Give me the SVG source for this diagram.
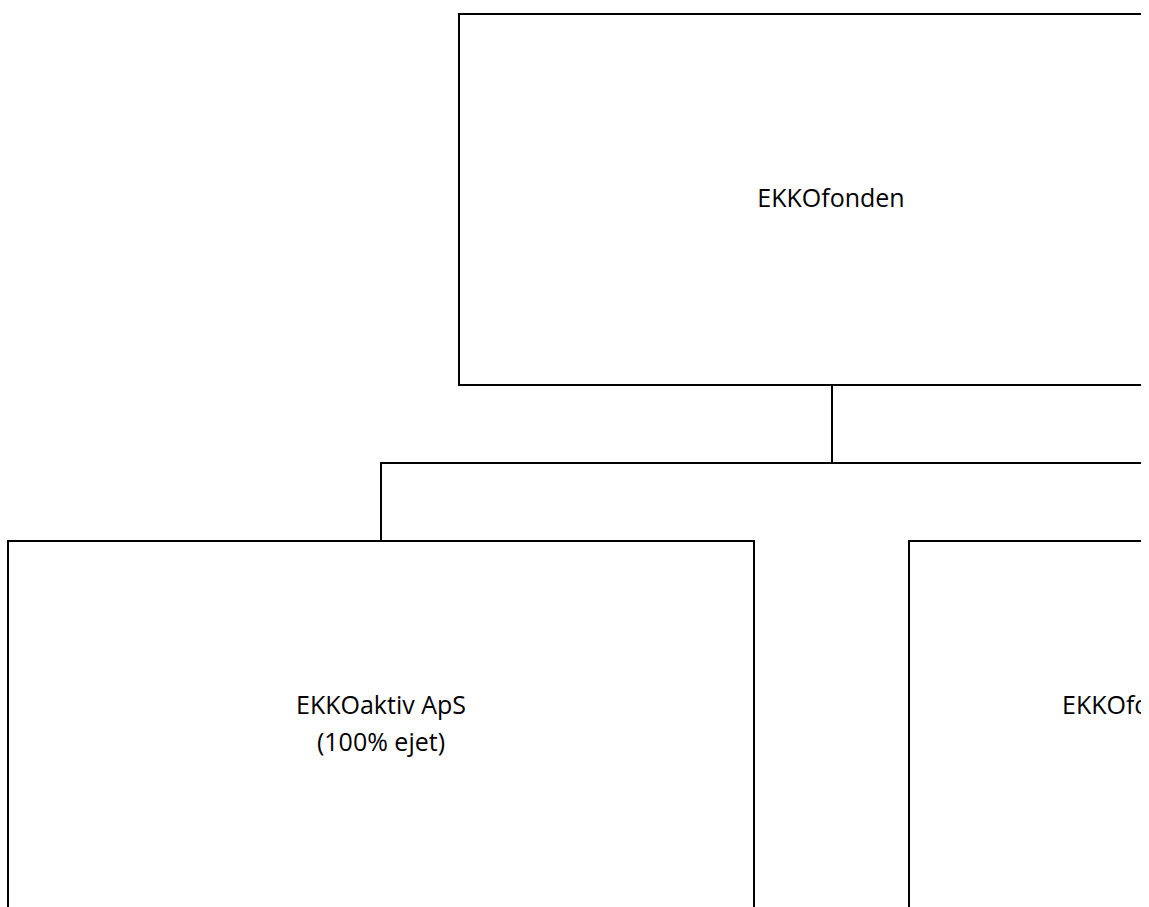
<svg xmlns="http://www.w3.org/2000/svg" width="1149" height="907" viewBox="0 0 1149 907">
<style>
.box{fill:#ffffff;stroke:#000000;stroke-width:2}
.conn{fill:none;stroke:#000000;stroke-width:2}
.lbl{font-family:"Open Sans","DejaVu Sans",sans-serif;font-size:25px;fill:#000000}
</style>
<defs>
<clipPath id="view"><rect x="0" y="0" width="1141" height="907"/></clipPath>
</defs>
<rect x="0" y="0" width="1149" height="907" fill="#ffffff"/>
<g clip-path="url(#view)">
<g id="connectors">
<polyline class="conn" points="832,385 832,463"/>
<polyline class="conn" points="381,541 381,463 1160,463"/>
</g>
<g id="node-ekkofonden">
<rect class="box" x="459" y="14" width="746" height="371"/>
<text class="lbl" x="831" y="207" text-anchor="middle">EKKOfonden</text>
</g>
<g id="node-ekkoaktiv">
<rect class="box" x="8" y="541" width="746" height="380"/>
<text class="lbl" x="381" y="714" text-anchor="middle">EKKOaktiv ApS</text>
<text class="lbl" x="381" y="751" text-anchor="middle">(100% ejet)</text>
</g>
<g id="node-right">
<rect class="box" x="909" y="541" width="746" height="380"/>
<text class="lbl" x="1062" y="714">EKKOfonden</text>
</g>
</g>
</svg>
